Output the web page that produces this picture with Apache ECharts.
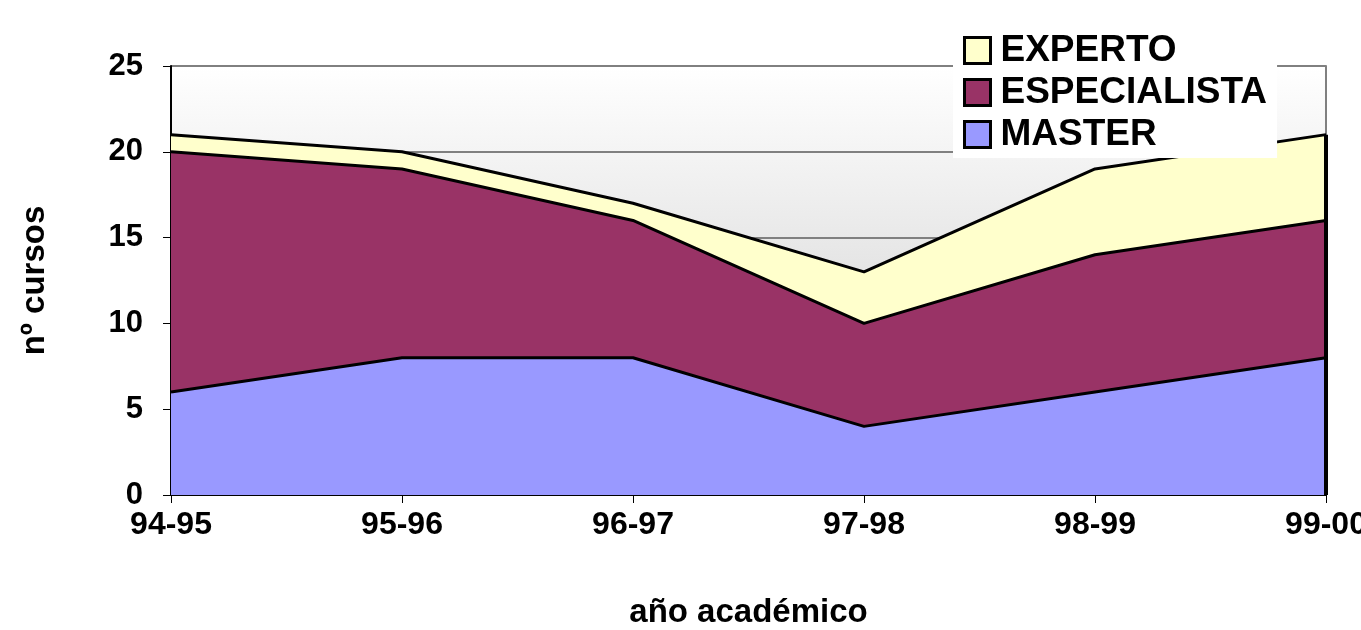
<!DOCTYPE html>
<html>
<head>
<meta charset="utf-8">
<script src="https://cdn.jsdelivr.net/npm/echarts@6/dist/echarts.min.js"></script>
<style>html,body{margin:0;padding:0;background:#fff;}#c{width:1361px;height:630px;}</style>
</head>
<body>
<div id="c"></div>
<script>
const categories = ['94-95', '95-96', '96-97', '97-98', '98-99', '99-00'];
const master = [6, 8, 8, 4, 6, 8];
const especialista = [14, 11, 8, 6, 8, 8];
const experto = [1, 1, 1, 3, 5, 5];
const yTicks = [0, 5, 10, 15, 20, 25];

const font = 'Liberation Sans, Arial, sans-serif';
const lastIdx = categories.length - 1;
const lastTotal = master[lastIdx] + especialista[lastIdx] + experto[lastIdx];
const chart = echarts.init(document.getElementById('c'));
function areaSeries(name, data, color, extra) {
  return Object.assign({
    name: name, type: 'line', stack: 'total', data: data,
    symbol: 'none', smooth: false,
    lineStyle: { color: '#000', width: 3 },
    areaStyle: { color: color, opacity: 1 },
    itemStyle: { color: color, borderColor: '#000', borderWidth: 3 },
    emphasis: { disabled: true }
  }, extra || {});
}
chart.setOption({
  animation: false,
  backgroundColor: '#fff',
  grid: {
    left: 171, right: 35, top: 66, bottom: 135,
    outerBoundsMode: 'none', containLabel: false,
    show: true, borderWidth: 0,
    backgroundColor: new echarts.graphic.LinearGradient(0, 0, 0, 1, [
      { offset: 0, color: '#ffffff' },
      { offset: 1, color: '#c8c8c8' }
    ])
  },
  legend: {
    orient: 'vertical', left: 953, top: 28,
    backgroundColor: '#fff', padding: [4, 10, 5, 10],
    itemWidth: 26, itemHeight: 26, itemGap: 5,
    icon: 'rect',
    itemStyle: { borderColor: '#000', borderWidth: 3 },
    textStyle: { fontFamily: font, fontWeight: 'bold', fontSize: 37, color: '#000', padding: [0, 0, 0, 5] },
    data: ['EXPERTO', 'ESPECIALISTA', 'MASTER']
  },
  xAxis: {
    type: 'category', data: categories, boundaryGap: false,
    name: 'año académico', nameLocation: 'middle', nameGap: 101,
    nameTextStyle: { fontFamily: font, fontWeight: 'bold', fontSize: 33, color: '#000' },
    axisLine: { lineStyle: { color: '#000', width: 2 } },
    axisTick: { show: true, length: 8, lineStyle: { color: '#000', width: 1 } },
    axisLabel: { fontFamily: font, fontWeight: 'bold', fontSize: 32, color: '#000', margin: 14, interval: 0 },
    splitLine: { show: false }
  },
  yAxis: [{
    type: 'value', min: 0, max: 25, interval: 5,
    name: 'nº cursos', nameLocation: 'middle', nameGap: 120, nameRotate: 90,
    nameTextStyle: { fontFamily: font, fontWeight: 'bold', fontSize: 33, color: '#000' },
    axisLine: { show: true, lineStyle: { color: '#000', width: 2 } },
    axisTick: { show: true, length: 8, lineStyle: { color: '#000', width: 1 } },
    axisLabel: { fontFamily: font, fontWeight: 'bold', fontSize: 31, color: '#000', margin: 28,
      formatter: v => yTicks.includes(v) ? String(v) : '' },
    splitLine: { show: true, lineStyle: { color: '#808080', width: 2 } }
  }, {
    type: 'value', min: 0, max: 25, interval: 5, position: 'right',
    axisLine: { show: true, lineStyle: { color: '#808080', width: 2 } },
    axisTick: { show: false }, axisLabel: { show: false }, splitLine: { show: false }
  }],
  series: [
    areaSeries('MASTER', master, '#9999FF'),
    areaSeries('ESPECIALISTA', especialista, '#993366'),
    areaSeries('EXPERTO', experto, '#FFFFCC', {
      markLine: {
        silent: true, symbol: 'none', label: { show: false },
        lineStyle: { color: '#000', width: 4, type: 'solid' },
        data: [[{ coord: [lastIdx, 0] }, { coord: [lastIdx, lastTotal] }]]
      }
    })
  ]
});
</script>
</body>
</html>
